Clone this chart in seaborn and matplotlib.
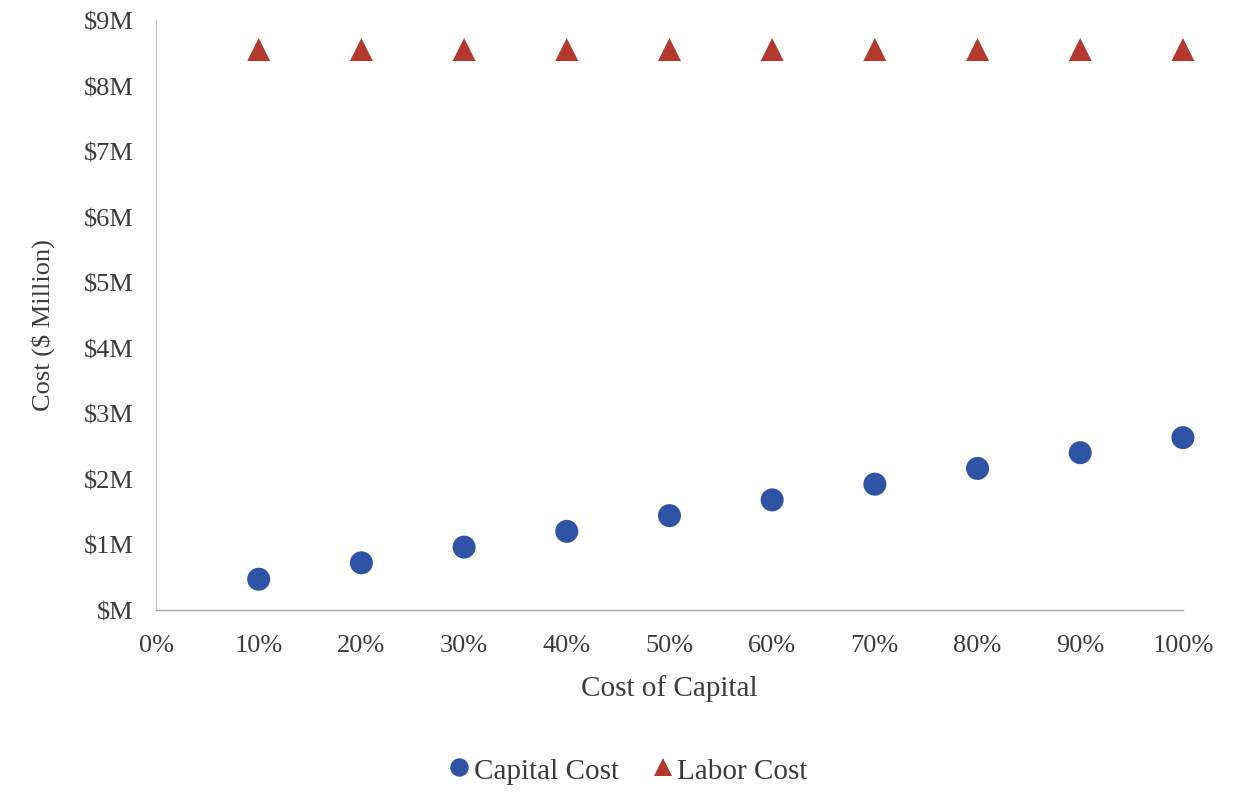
import matplotlib
matplotlib.use("Agg")
import matplotlib.pyplot as plt
import seaborn as sns
import pandas as pd
from matplotlib.ticker import FuncFormatter

# Cost of capital levels (%)
cost_of_capital = [10, 20, 30, 40, 50, 60, 70, 80, 90, 100]
# Costs in $ millions
capital_cost = [0.47, 0.72, 0.96, 1.20, 1.44, 1.68, 1.92, 2.16, 2.40, 2.63]
labor_cost = [8.55, 8.55, 8.55, 8.55, 8.55, 8.55, 8.55, 8.55, 8.55, 8.55]

series_names = ["Capital Cost", "Labor Cost"]
y_ticks = [0, 1, 2, 3, 4, 5, 6, 7, 8, 9]
x_ticks = [0, 10, 20, 30, 40, 50, 60, 70, 80, 90, 100]

df = pd.DataFrame({
    "Cost of Capital": cost_of_capital * 2,
    "Cost": capital_cost + labor_cost,
    "Series": [series_names[0]] * len(cost_of_capital) + [series_names[1]] * len(cost_of_capital),
})

sns.set_theme(style="white")
plt.rcParams["font.family"] = ["Liberation Serif", "DejaVu Serif"]

fig = plt.figure(figsize=(12.49, 8.12), dpi=100)
ax = fig.add_axes([0.1249, 0.2475, 0.8222, 0.7266])

palette = {"Capital Cost": "#2F54A6", "Labor Cost": "#B3382E"}
markers = {"Capital Cost": "o", "Labor Cost": "^"}

sns.scatterplot(data=df, x="Cost of Capital", y="Cost", hue="Series", style="Series",
                palette=palette, markers=markers, s=275, linewidth=0,
                ax=ax, legend=True, clip_on=False, zorder=3)

ax.set_xlim(0, 100)
ax.set_ylim(0, 9)
ax.set_xticks(x_ticks)
ax.set_yticks(y_ticks)
ax.xaxis.set_major_formatter(FuncFormatter(lambda v, p: f"{int(v)}%"))
ax.yaxis.set_major_formatter(FuncFormatter(lambda v, p: "$M" if v == 0 else f"${int(v)}M"))
ax.tick_params(axis="both", length=0, labelsize=19, colors="#3C3C3C")
ax.tick_params(axis="y", pad=16)
ax.tick_params(axis="x", pad=17)

for side in ["top", "right"]:
    ax.spines[side].set_visible(False)
ax.spines["left"].set_color("#C8CFA4")
ax.spines["bottom"].set_color("#A8A8A8")
ax.spines["left"].set_linewidth(1.0)
ax.spines["bottom"].set_linewidth(1.0)

ax.set_xlabel("Cost of Capital", fontsize=21, color="#3C3C3C", labelpad=13)
ax.set_ylabel("Cost ($ Million)", fontsize=19, color="#3C3C3C")
ax.yaxis.set_label_coords(-0.098, 0.485)

handles, labels = ax.get_legend_handles_labels()
ax.legend(handles, labels, loc="center", bbox_to_anchor=(0.4955, 0.050),
          bbox_transform=fig.transFigure,
          ncol=2, frameon=False, fontsize=21, handletextpad=-0.5,
          columnspacing=0.5, markerscale=0.8, labelcolor="#3C3C3C")

fig.savefig("out.png", dpi=100, facecolor="white")
